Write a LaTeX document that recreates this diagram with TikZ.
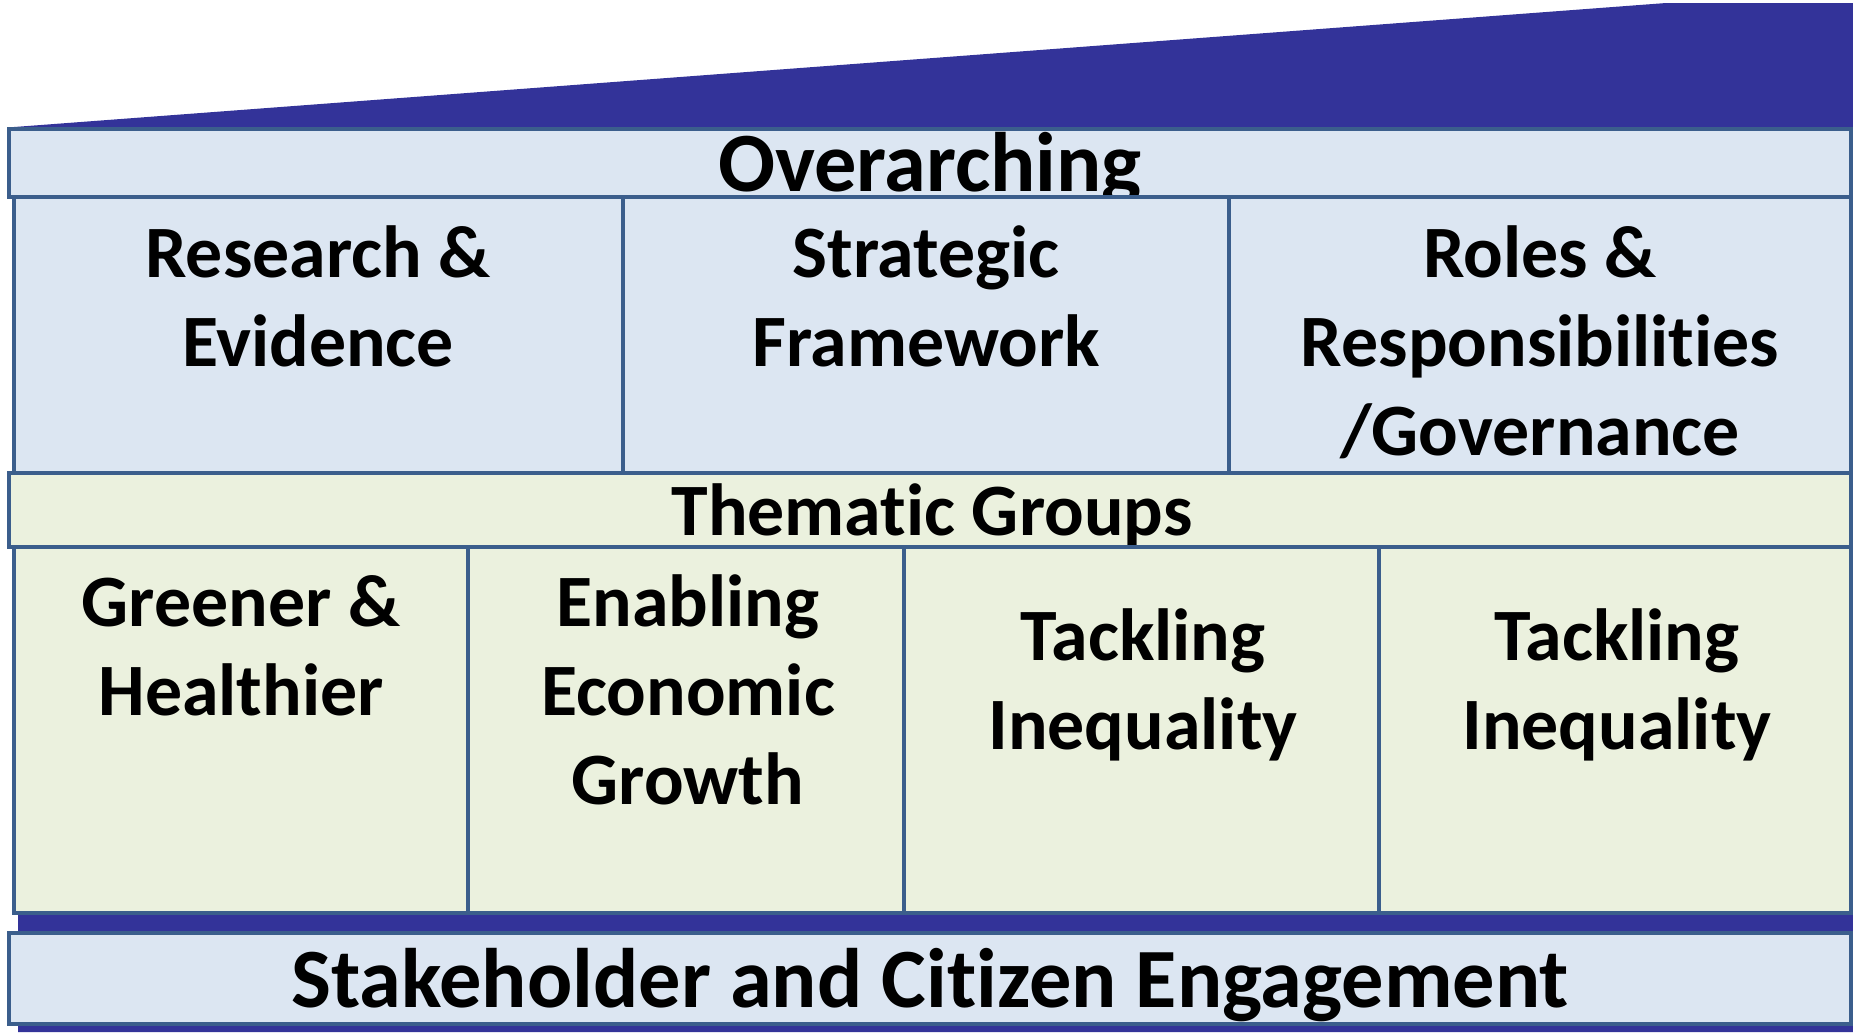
\documentclass[tikz,border=0pt]{standalone}
\usepackage{fontspec}
\setmainfont[Ligatures=NoCommon]{Carlito}
\usetikzlibrary{positioning}
\definecolor{indigo}{RGB}{51, 51, 153}
\definecolor{steel}{RGB}{59, 94, 140}
\definecolor{paleblue}{RGB}{220, 230, 242}
\definecolor{palegreen}{RGB}{235, 241, 222}

\begin{document}
\begin{tikzpicture}[x=0.01cm, y=-0.01cm,
        cell/.style={draw=steel, line width=1.2pt},
        celltext/.style={font=\bfseries\fontsize{21}{25.3}\selectfont, align=center, anchor=base, inner sep=0pt},
        bandtext/.style={font=\bfseries\fontsize{24}{29}\selectfont, anchor=base, inner sep=0pt}]
            \useasboundingbox                                   (0, 0) rectangle (1853, 1032);
            \fill[indigo]      (14, 127) -- (1666, 3) -- (1853, 3) -- (1853, 1032) -- (18, 1032) -- (18, 913) -- cycle;
            \filldraw[cell, fill=paleblue]                      (9, 129) rectangle (1851, 197);
            \node[bandtext] (overarching) at (930, 191) {Overarching};
            \filldraw[cell, fill=paleblue]                      (14, 197) rectangle (623, 473);
            \filldraw[cell, fill=paleblue]                      (623, 197) rectangle (1229, 473);
            \filldraw[cell, fill=paleblue]                      (1229, 197) rectangle (1851, 473);
            % base anchor sits on the last line
            \node[celltext] (research)  at (318, 366)  {Research \&\\Evidence};
            \node[celltext] (strategic) at (926, 366)  {Strategic\\Framework};
            \node[celltext] (roles)     at (1540, 455) {Roles \&\\Responsibilities\\/Governance};
            \filldraw[cell, fill=palegreen]                     (9, 473) rectangle (1851, 547);
            \node[celltext] (thematic)  at (932, 535)  {Thematic Groups};
            \filldraw[cell, fill=palegreen]                     (14, 547) rectangle (468, 913);
            \filldraw[cell, fill=palegreen]                     (468, 547) rectangle (904, 913);
            \filldraw[cell, fill=palegreen]                     (904, 547) rectangle (1379, 913);
            \filldraw[cell, fill=palegreen]                     (1379, 547) rectangle (1851, 913);
            \node[celltext] (greener)   at (241, 715)  {Greener \&\\Healthier};
            \node[celltext] (enabling)  at (688, 804)  {Enabling\\Economic\\Growth};
            \node[celltext] (tacklingA) at (1143, 749) {Tackling\\Inequality};
            \node[celltext] (tacklingB) at (1617, 749) {Tackling\\Inequality};
            \filldraw[cell, fill=paleblue]                      (9, 933) rectangle (1851, 1024);
            \node[bandtext] (stakeholder) at (930, 1007) {Stakeholder and Citizen Engagement};
\end{tikzpicture}
\end{document}
